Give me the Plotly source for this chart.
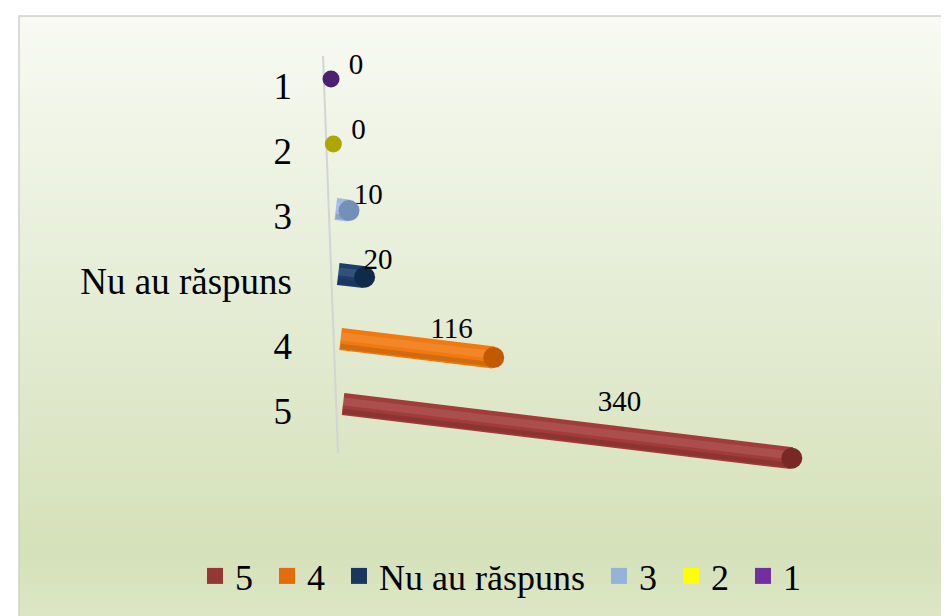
import plotly.graph_objects as go

# ---- data ----
categories = ["5", "4", "Nu au răspuns", "3", "2", "1"]
values = [340, 116, 20, 10, 0, 0]
body_colors = ["#a13c3a", "#f07a10", "#1b3f6b", "#9fbbe0", "#c8c200", "#6a2f94"]
cap_colors = ["#7a2826", "#c25a02", "#102a4c", "#7290b8", "#aca600", "#4e2170"]
legend_colors = ["#953735", "#e46c0a", "#17375e", "#95b3d7", "#ffff00", "#7030a0"]

# ---- geometry/style ----
W, H = 949, 616
ML, MR, MT, MB = 150, 0, 30, 120
PW, PH = W - ML - MR, H - MT - MB
AXIS_PX = 320            # pixel x of the category axis
ZERO_PX = 335            # pixel x of value 0
PXU = 1.32               # pixels per value unit
ROW = 65                 # pixels per category
SLOPE = 0.00245          # perspective drop (y units per value unit)
XMIN = -(ZERO_PX - ML) / PXU
XMAX = XMIN + PW / PXU
YMIN = -((H - MB) - 396) / ROW
YMAX = YMIN + PH / ROW
SERIF = "Liberation Serif, Times New Roman, serif"

def px2paper(px, py):
    return (px - ML) / PW, 1 - (py - MT) / PH

fig = go.Figure()

# background gradient bands
stops = [(8, (248, 250, 243)), (300, (228, 236, 212)), (545, (213, 225, 185)), (616, (221, 231, 199))]
def col_at(py):
    for (y0, c0), (y1, c1) in zip(stops[:-1], stops[1:]):
        if y0 <= py <= y1:
            t = (py - y0) / (y1 - y0)
            return "rgb(%d,%d,%d)" % tuple(round(a + (b - a) * t) for a, b in zip(c0, c1))
    return "rgb(%d,%d,%d)" % stops[-1][1]

shapes = []
nb = 76
top, bot = 8, 616
for i in range(nb):
    ya = top + (bot - top) * i / nb
    yb = top + (bot - top) * (i + 1) / nb
    x0p, y0p = px2paper(11, ya)
    x1p, y1p = px2paper(W + 2, yb + 0.6)
    shapes.append(dict(type="rect", xref="paper", yref="paper", x0=x0p, x1=x1p, y0=y1p, y1=y0p,
                       fillcolor=col_at((ya + yb) / 2), line=dict(width=0), layer="below"))
# frame
fx0, fy0 = px2paper(11, 8)
fx1, fy1 = px2paper(W + 5, H + 5)
shapes.append(dict(type="rect", xref="paper", yref="paper", x0=fx0, x1=fx1, y0=fy1, y1=fy0,
                   line=dict(color="#d0d0d0", width=1.5), fillcolor="rgba(0,0,0,0)", layer="below"))
# slanted axis line
ax0, ay0 = px2paper(315, 48)
ax1, ay1 = px2paper(330, 445)
shapes.append(dict(type="line", xref="paper", yref="paper", x0=ax0, y0=ay0, x1=ax1, y1=ay1,
                   line=dict(color="#d4d4d4", width=2), layer="below"))

n = len(categories)
for i, (cat, v, bc, cc) in enumerate(zip(categories, values, body_colors, cap_colors)):
    y0 = i
    x0 = -i * 2.4 / PXU
    x1 = x0 + v
    y1 = y0 - v * SLOPE
    if v > 0:
        # cylinder body
        fig.add_trace(go.Scatter(x=[x0, x1], y=[y0, y1], mode="lines",
                                 line=dict(color=bc, width=22),
                                 showlegend=False, hoverinfo="skip"))
        # subtle lower shade and top highlight
        fig.add_trace(go.Scatter(x=[x0, x1], y=[y0 - 0.11, y1 - 0.11], mode="lines",
                                 line=dict(color="rgba(0,0,0,0.12)", width=5),
                                 showlegend=False, hoverinfo="skip"))
        fig.add_trace(go.Scatter(x=[x0, x1], y=[y0 + 0.04, y1 + 0.04], mode="lines",
                                 line=dict(color="rgba(255,255,255,0.10)", width=8),
                                 showlegend=False, hoverinfo="skip"))
        # end cap
        fig.add_trace(go.Scatter(x=[x1], y=[y1], mode="markers", cliponaxis=False,
                                 marker=dict(size=21, color=cc, line=dict(width=0)),
                                 showlegend=False, hoverinfo="skip"))
    else:
        fig.add_trace(go.Scatter(x=[x1], y=[y1], mode="markers", cliponaxis=False,
                                 marker=dict(size=17, color=cc, symbol="circle", line=dict(width=0)),
                                 showlegend=False, hoverinfo="skip"))
    # data label
    lx = x0 + 0.56 * v + 19
    ly = y0 - (lx - x0) * SLOPE + 0.24 + 0.0008 * v
    fig.add_trace(go.Scatter(x=[lx], y=[ly], mode="text", text=[str(v)], cliponaxis=False,
                             textfont=dict(family=SERIF, size=29, color="#000"),
                             showlegend=False, hoverinfo="skip"))

# legend entries
for cat, lc in zip(categories, legend_colors):
    fig.add_trace(go.Scatter(x=[None], y=[None], mode="markers", name=cat + "\u00a0",
                             marker=dict(symbol="square", size=16, color=lc)))

fig.update_layout(
    width=W, height=H,
    margin=dict(l=ML, r=MR, t=MT, b=MB, autoexpand=False),
    paper_bgcolor="white", plot_bgcolor="rgba(0,0,0,0)",
    shapes=shapes,
    font=dict(family=SERIF, size=37, color="#000"),
    showlegend=True,
    legend=dict(orientation="h", xref="container", yref="container",
                x=497 / W, y=1 - 568 / H, xanchor="center", yanchor="middle",
                bgcolor="rgba(0,0,0,0)", font=dict(family=SERIF, size=36), itemwidth=30, tracegroupgap=0),
    xaxis=dict(range=[XMIN, XMAX], visible=False, fixedrange=True),
    yaxis=dict(range=[YMIN, YMAX], tickvals=list(range(n)), ticktext=categories,
               anchor="free", position=(AXIS_PX - ML) / PW,
               showgrid=False, zeroline=False, showline=False, ticks="",
               ticklabelstandoff=36, ticklabelshift=7, fixedrange=True),
)

fig.write_html("out.html")
